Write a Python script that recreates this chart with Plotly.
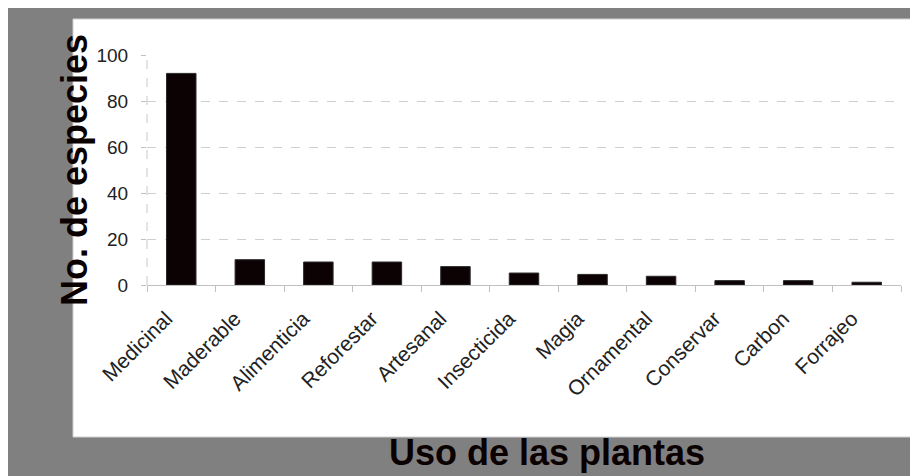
import plotly.graph_objects as go

categorias = ["Medicinal", "Maderable", "Alimenticia", "Reforestar", "Artesanal",
              "Insecticida", "Magia", "Ornamental", "Conservar", "Carbon", "Forrajeo"]
especies = [92, 11, 10, 10, 8, 5.2, 4.6, 3.8, 1.9, 1.9, 1.2]
y_ticks = [0, 20, 40, 60, 80, 100]

W, H = 918, 476
# plot area in figure pixels (page adds an 8px body margin)
L, R, T, B = 139, 893, 47, 277


def px(x):
    return (x - L) / (R - L)


def py(y):
    return (B - y) / (B - T)


fig = go.Figure()
fig.add_trace(go.Bar(
    x=categorias, y=especies,
    marker=dict(color="#0c0204", line=dict(color="#2a2a2a", width=1)),
))

shapes = [
    dict(type="rect", xref="paper", yref="paper", x0=px(65), x1=px(W + 5), y0=py(11), y1=py(429),
         fillcolor="white", line=dict(color="#d0d0d0", width=1), layer="below"),
    dict(type="line", xref="paper", yref="paper", x0=0, x1=0, y0=0, y1=1,
         line=dict(color="#c8c8c8", width=1, dash="dash"), layer="below"),
]

annotations = [
    dict(text="<b>No. de especies</b>", xref="paper", yref="paper", x=px(66), y=py(162),
         textangle=-90, showarrow=False, xanchor="center", yanchor="middle",
         font=dict(family="Liberation Sans, Arial", size=36, color="#0a0000")),
    dict(text="<b>Uso de las plantas</b>", xref="paper", yref="paper", x=px(539), y=py(444),
         showarrow=False, xanchor="center", yanchor="middle",
         font=dict(family="Liberation Sans, Arial", size=36, color="#0a0000")),
]

fig.update_layout(
    width=W, height=H,
    margin=dict(l=L, r=W - R, t=T, b=H - B, pad=0),
    paper_bgcolor="#808080",
    plot_bgcolor="rgba(0,0,0,0)",
    bargap=0.57,
    showlegend=False,
    shapes=shapes,
    annotations=annotations,
    font=dict(family="Liberation Sans, Arial", size=19, color="#222222"),
)
fig.update_xaxes(
    type="category", tickangle=-45, tickson="boundaries",
    ticks="outside", ticklen=6, tickcolor="#c0c0c0",
    showline=True, linecolor="#c0c0c0", linewidth=1,
    showgrid=False, ticklabelstandoff=12, ticklabelshift=-15,
    tickfont=dict(size=21, color="#222222"),
)
fig.update_yaxes(
    range=[0, 100], tickvals=y_ticks, ticks="outside", ticklen=5, tickcolor="#c0c0c0",
    showline=False, showgrid=True, gridcolor="#cfcfcf", griddash="dash", gridwidth=1,
    zeroline=False, tickfont=dict(size=19, color="#222222"), ticklabelstandoff=9,
)

fig.write_html("out.html")
